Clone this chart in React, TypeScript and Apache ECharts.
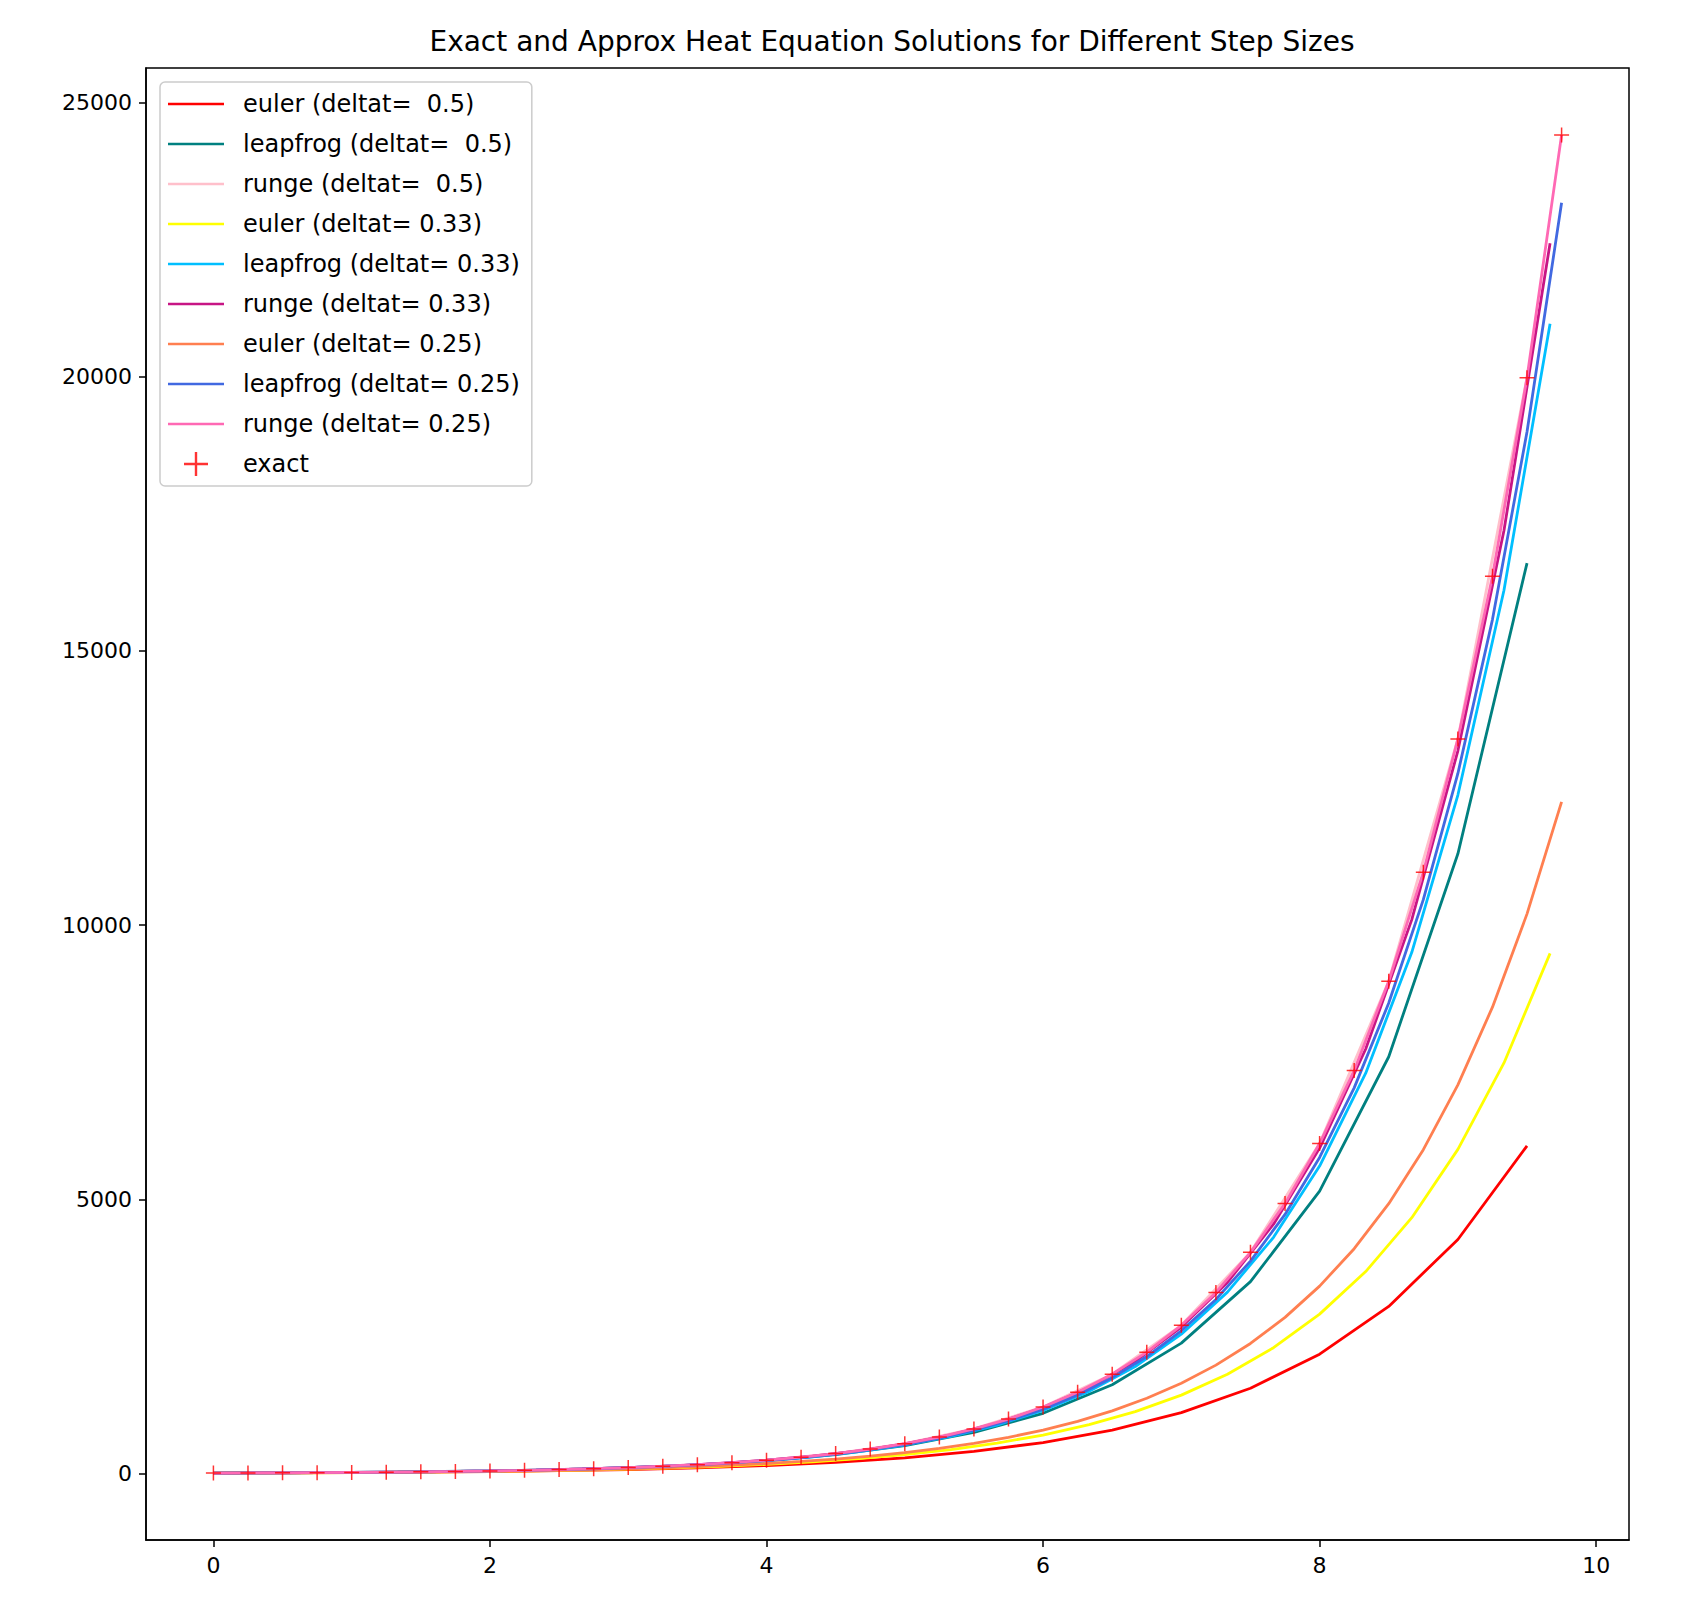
import React, { useEffect, useRef } from 'react';
import * as echarts from 'echarts';

const title = 'Exact and Approx Heat Equation Solutions for Different Step Sizes';

const eulerHalf = [10, 14, 19.6, 27, 38, 54, 75, 105, 148, 207, 289, 405, 567, 794, 1111, 1556, 2178, 3049, 4269, 5976];
const leapHalf = [10, 15, 23, 34, 50, 74, 108, 160, 235, 345, 510, 750, 1100, 1620, 2380, 3500, 5150, 7600, 11300, 16600];
const rungeHalf = [10, 15, 22, 33, 50, 74, 110, 164, 245, 366, 546, 815, 1215, 1813, 2704, 4034, 6018, 8977, 13394, 19981];

const eulerThird = [10, 12.7, 16.0, 20.3, 25.7, 32.6, 41.3, 52.3, 66.2, 83.9, 106, 134, 170, 216, 273, 346, 439, 556, 704, 892, 1130, 1431, 1813, 2296, 2908, 3684, 4666, 5911, 7487, 9484];
const leapThird = [10, 13.0, 16.9, 22.1, 28.7, 37.4, 48.7, 63.4, 82.5, 107, 140, 182, 237, 308, 401, 522, 680, 885, 1152, 1500, 1953, 2542, 3309, 4308, 5608, 7300, 9503, 12371, 16105, 20965];
const rungeThird = [10, 13.1, 17.1, 22.3, 29.1, 37.9, 49.5, 64.6, 84.3, 110, 143, 187, 244, 318, 415, 542, 707, 922, 1203, 1570, 2048, 2672, 3486, 4548, 5934, 7742, 10100, 13178, 17193, 22431];

const eulerQuarter = [10, 12, 14.4, 17.3, 20.7, 24.9, 29.9, 35.8, 43, 51.6, 61.9, 74.3, 89.2, 107, 128, 154, 185, 222, 266, 319, 383, 460, 552, 662, 795, 954, 1145, 1374, 1648, 1978, 2373, 2848, 3418, 4101, 4921, 5906, 7087, 8504, 10205, 12246];
const leapQuarter = [10, 12.2, 14.9, 18.2, 22.1, 27, 33, 40.2, 49, 59.8, 73, 89, 108, 132, 161, 197, 240, 293, 357, 436, 531, 648, 791, 964, 1176, 1435, 1750, 2135, 2604, 3176, 3875, 4726, 5765, 7033, 8579, 10464, 12765, 15570, 18993, 23168];
const rungeQuarter = [10, 12, 15, 18, 22, 27, 33, 41, 50, 60, 74, 90, 110, 135, 164, 200, 245, 300, 366, 447, 546, 667, 815, 995, 1215, 1484, 1813, 2214, 2704, 3303, 4034, 4927, 6018, 7350, 8977, 10966, 13394, 16359, 19981, 24406];
const exact = [10, 12, 15, 18, 22, 27, 33, 41, 50, 60, 74, 90, 110, 135, 164, 200, 245, 300, 366, 447, 546, 667, 815, 995, 1215, 1484, 1813, 2214, 2704, 3303, 4034, 4927, 6018, 7350, 8977, 10966, 13394, 16359, 19981, 24406];

const xTicks = [0, 2, 4, 6, 8, 10];
const yTicks = [0, 5000, 10000, 15000, 20000, 25000];

const pairs = (vals: number[], h: number) => vals.map((v, i) => [i * h, v]);

const lines = [
  { name: 'euler (deltat=  0.5)', color: '#ff0000', vals: eulerHalf, h: 0.5 },
  { name: 'leapfrog (deltat=  0.5)', color: '#008080', vals: leapHalf, h: 0.5 },
  { name: 'runge (deltat=  0.5)', color: '#ffc0cb', vals: rungeHalf, h: 0.5 },
  { name: 'euler (deltat= 0.33)', color: '#ffff00', vals: eulerThird, h: 1 / 3 },
  { name: 'leapfrog (deltat= 0.33)', color: '#00bfff', vals: leapThird, h: 1 / 3 },
  { name: 'runge (deltat= 0.33)', color: '#c71585', vals: rungeThird, h: 1 / 3 },
  { name: 'euler (deltat= 0.25)', color: '#ff7f50', vals: eulerQuarter, h: 0.25 },
  { name: 'leapfrog (deltat= 0.25)', color: '#4169e1', vals: leapQuarter, h: 0.25 },
  { name: 'runge (deltat= 0.25)', color: '#ff69b4', vals: rungeQuarter, h: 0.25 },
];

const PLUS = 'path://M9,0h2v20h-2zM0,9h20v2h-20z';
const LINE = 'path://M0,0h56v2.5h-56z';
const font = '"DejaVu Sans", sans-serif';

const App: React.FC = () => {
  const chartRef = useRef<HTMLDivElement>(null);
  useEffect(() => {
    if (!chartRef.current) return;
    const chart = echarts.init(chartRef.current, undefined, { renderer: 'svg' });
    const axisCommon = {
      axisLine: { show: true, onZero: false, lineStyle: { color: '#000', width: 1.5 } },
      axisTick: { show: true, length: 7, lineStyle: { color: '#000', width: 1.5 } },
      splitLine: { show: false },
    };
    chart.setOption({
      animation: false,
      backgroundColor: '#fff',
      textStyle: { fontFamily: font },
      title: {
        text: title,
        left: 887,
        textAlign: 'center',
        top: 22,
        textStyle: { fontSize: 28, fontWeight: 'normal', color: '#000', fontFamily: font },
      },
      grid: { left: 146, right: 63, top: 68, bottom: 84, show: true, borderColor: '#000', borderWidth: 1.5 },
      legend: {
        orient: 'vertical',
        left: 160,
        top: 82,
        padding: [10, 12, 10, 8],
        itemGap: 16,
        itemWidth: 56,
        itemHeight: 24,
        backgroundColor: '#fff',
        borderColor: '#ccc',
        borderWidth: 1.5,
        borderRadius: 5,
        textStyle: { fontSize: 24, color: '#000', fontFamily: font, padding: [0, 0, 0, 14] },
        data: [
          ...lines.map((l) => ({ name: l.name, icon: LINE, itemStyle: { color: l.color } })),
          { name: 'exact', icon: PLUS, itemStyle: { color: '#ff0000' } },
        ],
      },
      xAxis: {
        type: 'value',
        min: -0.4875,
        max: 10.2375,
        ...axisCommon,
        axisTick: { ...axisCommon.axisTick, customValues: xTicks },
        axisLabel: { customValues: xTicks, fontSize: 22, color: '#000', margin: 14 },
      },
      yAxis: {
        type: 'value',
        min: -1210,
        max: 25626,
        ...axisCommon,
        axisTick: { ...axisCommon.axisTick, customValues: yTicks },
        axisLabel: { customValues: yTicks, fontSize: 22, color: '#000', margin: 14, formatter: (v: number) => String(v) },
      },
      series: [
        ...lines.map((l) => ({
          name: l.name,
          type: 'line',
          data: pairs(l.vals, l.h),
          showSymbol: false,
          symbol: 'none',
          color: l.color,
          lineStyle: { width: 2.8, color: l.color },
        })),
        {
          name: 'exact',
          type: 'scatter',
          data: pairs(exact, 0.25),
          symbol: PLUS,
          symbolSize: 15,
          itemStyle: { color: '#ff0000' },
          z: 10,
        },
      ],
    });
    return () => chart.dispose();
  }, []);
  return <div ref={chartRef} style={{ position: 'absolute', left: 0, top: 0, width: 1692, height: 1624 }} />;
};

export default App;
